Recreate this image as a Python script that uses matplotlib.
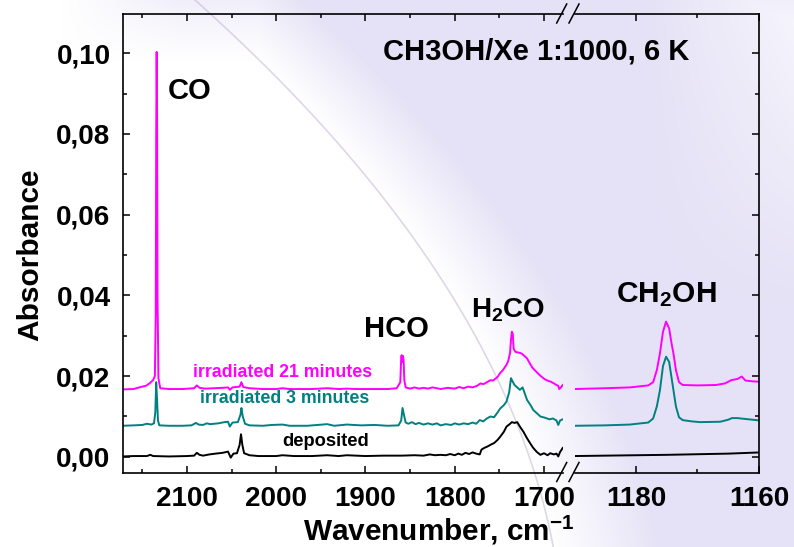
#Recreating the CH3OH/Xe IR spectra figure (broken wavenumber axis)

import matplotlib
matplotlib.use("Agg")
import matplotlib.pyplot as plt
import numpy as np

plt.rcParams['font.family'] = ['Liberation Sans', 'DejaVu Sans']
plt.rcParams['font.weight'] = 'bold'
plt.rcParams['mathtext.fontset'] = 'custom'
plt.rcParams['mathtext.rm'] = 'Liberation Sans:bold'
plt.rcParams['mathtext.it'] = 'Liberation Sans:bold'
plt.rcParams['mathtext.bf'] = 'Liberation Sans:bold'

# ---- data: (wavenumber cm-1, absorbance) ----
irr21_high = [
    (2172, 0.0167), (2160, 0.0168), (2152, 0.0173), (2146, 0.0176), (2142, 0.0182),
    (2138, 0.0190), (2136, 0.0200), (2135, 0.0350), (2134.5, 0.0800), (2134, 0.1003),
    (2133.5, 0.0850), (2133, 0.0400), (2132, 0.0195), (2130, 0.0170), (2120, 0.0168),
    (2105, 0.0168), (2092, 0.0170), (2089, 0.0177), (2086, 0.0171), (2080, 0.0169),
    (2070, 0.0170), (2060, 0.0171), (2054, 0.0172), (2052, 0.0166), (2049, 0.0172),
    (2041, 0.0174), (2039, 0.0185), (2037, 0.0173), (2030, 0.0170), (2015, 0.0168),
    (2000, 0.0168), (1993, 0.0170), (1985, 0.0168), (1970, 0.0168), (1960, 0.0168),
    (1943, 0.0170), (1930, 0.0168), (1921, 0.0169), (1910, 0.0168), (1890, 0.0168),
    (1875, 0.0168), (1865, 0.0170), (1861, 0.0185), (1860, 0.0245), (1859.5, 0.0252),
    (1858.8, 0.0235), (1858, 0.0250), (1857.3, 0.0240), (1856.5, 0.0190), (1855, 0.0172),
    (1850, 0.0169), (1845, 0.0172), (1840, 0.0169), (1835, 0.0171), (1830, 0.0169),
    (1825, 0.0172), (1820, 0.0170), (1816, 0.0168), (1808, 0.0171), (1800, 0.0169),
    (1795, 0.0173), (1790, 0.0170), (1785, 0.0174), (1780, 0.0172), (1775, 0.0176),
    (1771, 0.0182), (1768, 0.0180), (1763, 0.0186), (1760, 0.0190), (1757, 0.0189),
    (1752, 0.0198), (1749, 0.0208), (1746, 0.0215), (1742, 0.0228), (1740, 0.0238),
    (1738, 0.0258), (1737, 0.0290), (1736, 0.0310), (1735, 0.0305), (1734, 0.0268),
    (1732, 0.0260), (1728, 0.0258), (1725, 0.0256), (1722, 0.0250), (1719, 0.0244),
    (1716, 0.0232), (1713, 0.0221), (1710, 0.0214), (1706, 0.0205), (1703, 0.0199),
    (1699, 0.0192), (1695, 0.0188), (1692, 0.0186), (1689, 0.0182), (1686, 0.0178),
    (1684, 0.0176), (1683, 0.0168), (1681, 0.0172), (1679, 0.0178),
]
irr3_high = [
    (2172, 0.0077), (2160, 0.0078), (2150, 0.0079), (2145, 0.0082), (2140, 0.0080),
    (2137, 0.0083), (2135.5, 0.0110), (2134.5, 0.0185), (2133.5, 0.0140), (2132.5, 0.0090),
    (2131, 0.0078), (2120, 0.0077), (2105, 0.0077), (2095, 0.0078), (2090, 0.0084),
    (2087, 0.0080), (2082, 0.0079), (2078, 0.0083), (2074, 0.0081), (2065, 0.0083),
    (2058, 0.0086), (2054, 0.0087), (2052, 0.0075), (2049, 0.0085), (2043, 0.0086),
    (2040, 0.0105), (2039, 0.0121), (2037.5, 0.0100), (2035, 0.0082), (2030, 0.0078),
    (2015, 0.0077), (2005, 0.0079), (1993, 0.0080), (1985, 0.0077), (1965, 0.0077),
    (1943, 0.0081), (1935, 0.0077), (1921, 0.0080), (1905, 0.0078), (1890, 0.0079),
    (1875, 0.0077), (1863, 0.0078), (1860, 0.0090), (1858.5, 0.0121), (1857, 0.0105),
    (1855, 0.0085), (1852, 0.0082), (1848, 0.0086), (1844, 0.0081), (1840, 0.0084),
    (1835, 0.0080), (1830, 0.0083), (1825, 0.0080), (1820, 0.0083), (1816, 0.0078),
    (1810, 0.0081), (1804, 0.0079), (1800, 0.0083), (1795, 0.0080), (1790, 0.0083),
    (1785, 0.0081), (1780, 0.0085), (1776, 0.0082), (1772, 0.0091), (1768, 0.0088),
    (1764, 0.0095), (1760, 0.0100), (1756, 0.0098), (1752, 0.0110), (1749, 0.0120),
    (1745, 0.0128), (1742, 0.0137), (1739, 0.0160), (1737, 0.0195), (1735.5, 0.0188),
    (1733, 0.0178), (1730, 0.0172), (1727, 0.0166), (1724, 0.0172), (1722, 0.0160),
    (1719, 0.0141), (1715, 0.0128), (1712, 0.0116), (1708, 0.0108), (1704, 0.0100),
    (1699, 0.0097), (1694, 0.0093), (1690, 0.0095), (1686, 0.0090), (1684, 0.0079),
    (1682, 0.0090), (1679, 0.0093),
]
dep_high = [
    (2172, 0.0001), (2160, 0.0002), (2145, 0.0002), (2141, 0.0005), (2138, 0.0002),
    (2120, 0.0001), (2100, 0.0002), (2092, 0.0003), (2089, 0.0010), (2086, 0.0005),
    (2082, 0.0003), (2075, 0.0006), (2068, 0.0008), (2060, 0.0010), (2054, 0.0013),
    (2051, -0.0002), (2048, 0.0008), (2044, 0.0009), (2041, 0.0030), (2039.5, 0.0056),
    (2038, 0.0030), (2036, 0.0009), (2030, 0.0004), (2020, 0.0002), (2000, 0.0002),
    (1993, 0.0004), (1980, 0.0002), (1960, 0.0002), (1943, 0.0004), (1930, 0.0002),
    (1921, 0.0004), (1900, 0.0002), (1880, 0.0003), (1860, 0.0003), (1845, 0.0004),
    (1835, 0.0003), (1828, 0.0006), (1822, 0.0004), (1816, 0.0005), (1810, 0.0004),
    (1805, 0.0007), (1800, 0.0004), (1796, 0.0008), (1792, 0.0005), (1788, 0.0010),
    (1784, 0.0007), (1780, 0.0011), (1776, 0.0008), (1772, 0.0006), (1770, 0.0018),
    (1767, 0.0022), (1763, 0.0026), (1759, 0.0031), (1756, 0.0034), (1752, 0.0042),
    (1749, 0.0050), (1745, 0.0062), (1742, 0.0075), (1739, 0.0080), (1736, 0.0086),
    (1733, 0.0084), (1730, 0.0086), (1727, 0.0075), (1723, 0.0062), (1719, 0.0046),
    (1715, 0.0032), (1712, 0.0022), (1708, 0.0012), (1704, 0.0005), (1700, 0.0009),
    (1696, 0.0004), (1693, 0.0009), (1689, 0.0006), (1686, 0.0008), (1684, 0.0001),
    (1682, 0.0012), (1679, 0.0022),
]

irr21_low = [
    (1190, 0.0168), (1185, 0.0170), (1181, 0.0172), (1178, 0.0177), (1177.2, 0.0185),
    (1176.6, 0.0215), (1176.1, 0.0256), (1175.6, 0.0310), (1175.1, 0.0335), (1174.6, 0.0318),
    (1174.2, 0.0280), (1173.9, 0.0256), (1173.5, 0.0215), (1173.0, 0.0185), (1172.4, 0.0178),
    (1170, 0.0177), (1167, 0.0178), (1165.5, 0.0182), (1164.5, 0.0190), (1163.5, 0.0193),
    (1162.8, 0.0199), (1162.2, 0.0189), (1161, 0.0187), (1159.8, 0.0186),
]
irr3_low = [
    (1190, 0.0077), (1185, 0.0078), (1181, 0.0080), (1178, 0.0085), (1177.2, 0.0095),
    (1176.6, 0.0125), (1176.1, 0.0165), (1175.6, 0.0225), (1175.1, 0.0248), (1174.6, 0.0235),
    (1174.2, 0.0195), (1173.9, 0.0165), (1173.5, 0.0125), (1173.0, 0.0098), (1172.4, 0.0091),
    (1171, 0.0088), (1169.6, 0.0086), (1166.3, 0.0087), (1165, 0.0092), (1164.4, 0.0096),
    (1163.5, 0.0096), (1162.3, 0.0094), (1159.8, 0.0090),
]
dep_low = [(1190, 0.0002), (1175, 0.0005), (1165, 0.0008), (1159.8, 0.0011)]

series_names = ["irradiated 21 minutes", "irradiated 3 minutes", "deposited"]
series_colors = ["#FF00FF", "#008080", "#000000"]

y_ticks = [0.00, 0.02, 0.04, 0.06, 0.08, 0.10]
y_tick_labels = ["0,00", "0,02", "0,04", "0,06", "0,08", "0,10"]
x_ticks_high = [2100, 2000, 1900, 1800, 1700]
x_ticks_low = [1180, 1160]

W, H = 794, 547
fig = plt.figure(figsize=(W / 100, H / 100), dpi=100)

# ---- slide-like background ----
bg = fig.add_axes([0, 0, 1, 1], zorder=-5)
yy, xx = np.mgrid[0:H, 0:W]
arc_x = 195 + 1.12 * yy - 0.00085 * yy ** 2
w_lav = np.clip((xx - arc_x) / 110.0, 0, 1)
w_lav *= 1 - 0.7 * np.clip((xx - 640) / 160.0, 0, 1) * np.clip(1 - yy / 320.0, 0, 1)
w_lav = np.maximum(w_lav, 0.55 * np.clip(1 - yy / 60.0, 0, 1) * np.clip((xx - 60) / 120.0, 0, 1))
lav = np.array([229, 225, 246]) / 255.0
img = 1 - w_lav[..., None] * (1 - lav)
bg.imshow(img, extent=[0, W, H, 0], aspect='auto', interpolation='bilinear')
ys = np.linspace(0, H, 50)
bg.plot(195 + 1.12 * ys - 0.00085 * ys ** 2, ys, color='#b9a6cf', lw=1.2, alpha=0.45)
bg.set_xlim(0, W)
bg.set_ylim(H, 0)
bg.axis('off')

# ---- broken axes ----
ax1 = fig.add_axes([123 / W, 74 / H, 440 / W, 459 / H])
ax2 = fig.add_axes([575 / W, 74 / H, 184 / W, 459 / H])
ax1.set_facecolor('none')
ax2.set_facecolor('none')

for data_h, data_l, c in zip([irr21_high, irr3_high, dep_high],
                             [irr21_low, irr3_low, dep_low], series_colors):
    xh, yh = zip(*data_h)
    xl, yl = zip(*data_l)
    ax1.plot(xh, yh, color=c, lw=1.4)
    ax2.plot(xl, yl, color=c, lw=1.4)

ylim = (-0.004, 0.1097)
ax1.set_xlim(2171.7, 1678.7)
ax2.set_xlim(1189.9, 1160)
for ax in (ax1, ax2):
    ax.set_ylim(*ylim)
    ax.set_yticks(y_ticks)
    ax.set_yticks(np.arange(0.01, 0.11, 0.02), minor=True)
    for s in ax.spines.values():
        s.set_linewidth(1.2)
    ax.tick_params(which='both', direction='in', top=True, width=1.1,
                   labelsize=20, pad=9)
    ax.tick_params(which='major', length=5)
    ax.tick_params(which='minor', length=3)

ax1.spines['right'].set_visible(False)
ax2.spines['left'].set_visible(False)
ax1.set_yticklabels(y_tick_labels)
ax1.tick_params(which='both', right=False)
ax2.tick_params(which='both', left=False, right=True, labelleft=False)
ax1.set_xticks(x_ticks_high)
ax1.set_xticks([2150, 2050, 1950, 1850, 1750], minor=True)
ax2.set_xticks(x_ticks_low)
ax2.set_xticks([1170], minor=True)
for lab in ax1.get_xticklabels() + ax1.get_yticklabels() + ax2.get_xticklabels():
    lab.set_fontweight('bold')

# break marks
for cx in (561.7, 574.0):
    for cy in (13.5, 472.0):
        bg.plot([cx - 5, cx + 5], [cy + 9.5, cy - 9.5], color='black', lw=1.1)

# ---- text ----
ax1.text(2121, 0.0906, "CO", fontsize=21, fontweight='bold', ha='left', va='center')
ax1.text(1865.8, 0.0317, "HCO", fontsize=21, fontweight='bold', ha='center', va='center')
ax1.text(1740.3, 0.0364, "H$_2$CO", fontsize=20, fontweight='bold', ha='center', va='center')
ax2.text(1175.1, 0.0403, "CH$_2$OH", fontsize=21.5, fontweight='bold', ha='center', va='center')

label_pos = [(1992.4, 0.0210), (1990.2, 0.0144), (1944.3, 0.0038)]
label_size = [12.8, 12.8, 13.2]
for name, c, (lx, ly), fs in zip(series_names, series_colors, label_pos, label_size):
    ax1.text(lx, ly, name, color=c, fontsize=fs, fontweight='bold', ha='center', va='center')

fig.text(383 / W, 1 - 52 / H, "CH3OH/Xe 1:1000, 6 K", fontsize=21, fontweight='bold',
         ha='left', va='center')
fig.text(439 / W, 1 - 530 / H, "Wavenumber, cm$^{-1}$", fontsize=21.4, fontweight='bold',
         ha='center', va='center')
fig.text(30 / W, 1 - 255 / H, "Absorbance", fontsize=21.5, fontweight='bold',
         ha='center', va='center', rotation=90)

fig.savefig("out.png", dpi=100)
